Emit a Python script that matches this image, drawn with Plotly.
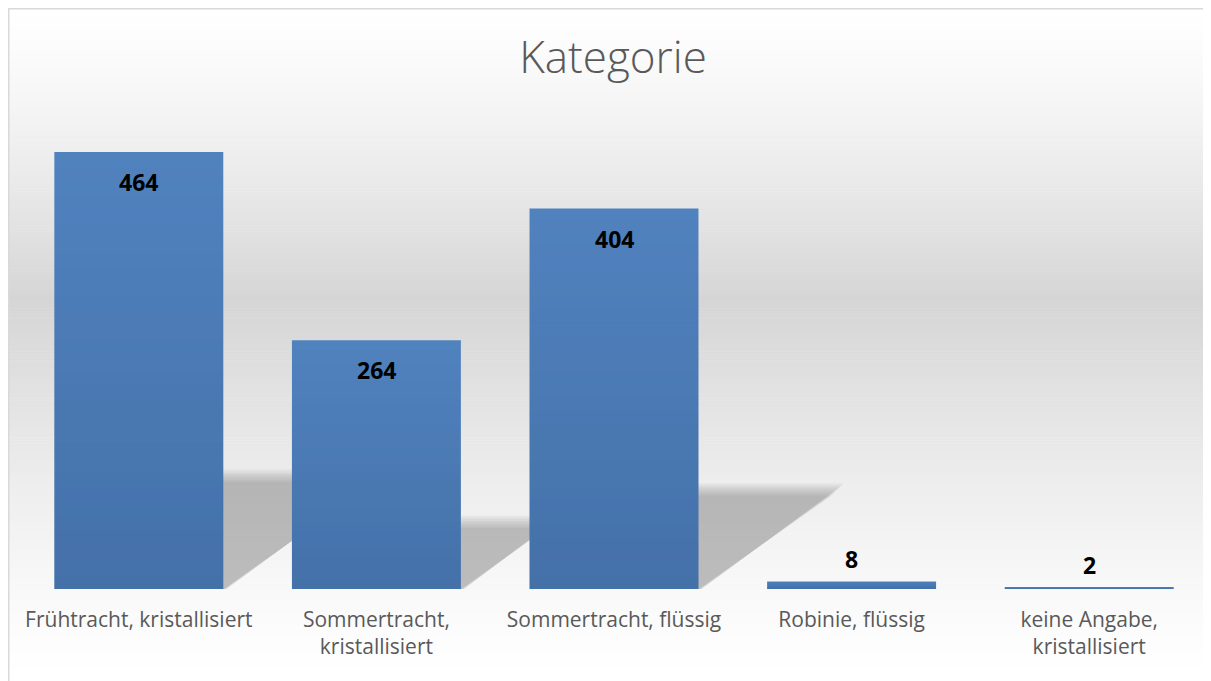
import plotly.graph_objects as go

categories = ["Frühtracht, kristallisiert", "Sommertracht,<br>kristallisiert",
              "Sommertracht, flüssig", "Robinie, flüssig", "keine Angabe,<br>kristallisiert"]
values = [464, 264, 404, 8, 2]
label_inside = [True, True, True, False, False]

# page is rendered with an 8px body margin -> figure is offset by 8px
OFF = 8
PW, PHt = 1211, 681            # page size
W, H = PW - OFF, PHt - OFF     # figure size
ML, MR, MT, MB = 20 - OFF, 3, 100 - OFF, PHt - 589
PLW = W - ML - MR
PLH = H - MT - MB
BARGAP = 0.289
YMAX = PLH / (437 / 464)

def px(xp):   # page x -> paper x
    return (xp - OFF - ML) / PLW

def py(yp):   # page y -> paper y
    return (H - MB - (yp - OFF)) / PLH

fig = go.Figure()
fig.add_trace(go.Bar(
    x=categories, y=values,
    marker=dict(color="#5183bf", line=dict(width=0)),
    hoverinfo="skip",
))

shapes = []
# background gradient
peak = 300
N = 220
top = 7
for i in range(N):
    y0p = top + i * (PHt + 2 - top) / N
    y1p = top + (i + 1) * (PHt + 2 - top) / N
    mid = (y0p + y1p) / 2
    if mid < peak:
        f = (mid - top) / (peak - top)
    else:
        f = (PHt - mid) / (PHt - peak)
    f = max(0.0, min(1.0, f)) ** 1.3
    g = int(round(255 - 42 * f))
    shapes.append(dict(type="rect", xref="paper", yref="paper", layer="below",
                       x0=px(8), x1=px(PW + 5), y0=py(y1p + 0.5), y1=py(y0p),
                       fillcolor=f"rgb({g},{g},{g})", line=dict(width=0)))

# soft perspective shadows behind bars (derived from bar geometry)
n = len(categories)
half = (1 - BARGAP) / n / 2
for i, v in enumerate(values):
    if v < 20:
        continue
    c = (i + 0.5) / n
    L, R = c - half, c + half
    hp = v / YMAX
    skew = 0.35 * hp * PLH / PLW
    sh = 0.245 * hp
    layers = 8
    for j in range(layers):
        g_px = (layers - 1 - j) * 1.8       # grow outward, outermost first
        gx = g_px / PLW
        gy = g_px / PLH
        path = (f"M {L} 0 L {R + gx * 0.3} 0 L {R + skew + gx} {sh + gy} "
                f"L {L + skew + gx} {sh + gy} Z")
        shapes.append(dict(type="path", xref="paper", yref="paper", layer="below",
                           path=path, fillcolor="rgba(90,90,90,0.055)",
                           line=dict(width=0)))

# vertical gradient on each bar (darker toward the base)
NB = 30
for i, v in enumerate(values):
    c = (i + 0.5) / n
    for k in range(NB):
        y0 = v * k / NB
        y1 = v * (k + 1) / NB
        op = 0.2 * (1 - (k + 0.5) / NB)
        shapes.append(dict(type="rect", xref="paper", yref="y", layer="above",
                           x0=c - half, x1=c + half, y0=y0, y1=y1,
                           fillcolor=f"rgba(20,40,80,{op:.3f})", line=dict(width=0)))

# outer border
shapes.append(dict(type="rect", xref="paper", yref="paper", layer="above",
                   x0=px(8.75), x1=px(PW + 5), y0=py(PHt + 5), y1=py(8.75),
                   fillcolor="rgba(0,0,0,0)", line=dict(color="#d9d9d9", width=1.5)))

FONT = "Open Sans, Noto Sans, sans-serif"
annotations = []
for cat, v, ins in zip(categories, values, label_inside):
    annotations.append(dict(
        x=cat, y=v, xref="x", yref="y", text=f"<b>{v}</b>", showarrow=False,
        font=dict(family=FONT, size=23, color="#000000"),
        yanchor="middle", yshift=-30 if ins else 22,
    ))

fig.update_layout(
    width=W, height=H,
    margin=dict(l=ML, r=MR, t=MT, b=MB),
    paper_bgcolor="white", plot_bgcolor="rgba(0,0,0,0)",
    title=dict(text="Kategorie", x=px(613), xref="paper", xanchor="center",
               y=1 - (58 - OFF) / H, yanchor="middle",
               font=dict(family=FONT, size=44, color="#595959", weight=300)),
    bargap=BARGAP,
    showlegend=False,
    shapes=shapes,
    annotations=annotations,
    xaxis=dict(showgrid=False, zeroline=False, showline=False, ticks="",
               tickfont=dict(family=FONT, size=21, color="#595959"),
               ticklabelstandoff=16, fixedrange=True),
    yaxis=dict(visible=False, range=[0, YMAX], fixedrange=True),
)

fig.write_html("out.html")
